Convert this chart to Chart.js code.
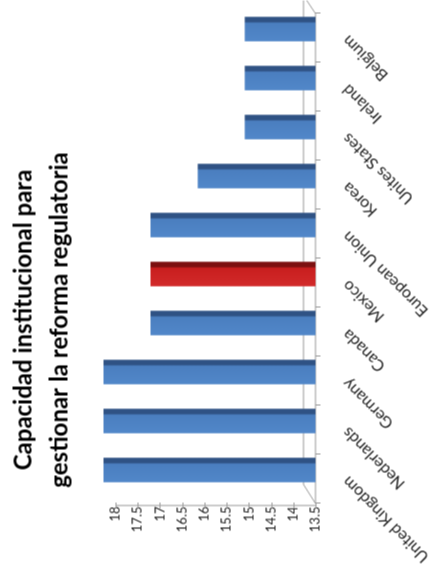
<!DOCTYPE html>
<html>
<head>
<meta charset="utf-8">
<script src="https://cdn.jsdelivr.net/npm/chart.js@4.4.1/dist/chart.umd.min.js"></script>
<style>
  html, body { margin: 0; padding: 0; background: #fff; overflow: hidden; }
  body { width: 433px; height: 584px; position: relative; }
  /* the chart is drawn upright and then turned a quarter to the left */
  #wrap { position: absolute; left: -75.5px; top: 75.5px; width: 584px; height: 433px; transform: rotate(-90deg); }
</style>
</head>
<body>
<div id="wrap"><canvas id="chart" width="584" height="433"></canvas></div>
<script>
const countries = ['United Kingdom', 'Nederlands', 'Germany', 'Canada', 'Mexico',
                   'European Union', 'Korea', 'Unites States', 'Ireland', 'Belgium'];
const scores = [18, 18, 18, 17, 17, 17, 16, 15, 15, 15];
const highlight = 'Mexico';
const valueTicks = [13.5, 14, 14.5, 15, 15.5, 16, 16.5, 17, 17.5, 18];
const titleLines = ['Capacidad institucional para', 'gestionar la reforma regulatoria'];

// shaded fill so the bars look a bit like the 3D columns
function barFill(ctx) {
    const chart = ctx.chart;
    const red = countries[ctx.dataIndex] === highlight;
    const c = red ? ['#d22a2a', '#c81e1e', '#7c1010'] : ['#5187c9', '#4a7ebf', '#2f5284'];
    const x = chart.scales.x;
    if (!chart.chartArea || !x) return c[1];
    const cx = x.getPixelForValue(ctx.dataIndex);
    const half = x.width / countries.length * 0.25;
    const g = chart.ctx.createLinearGradient(cx - half, 0, cx + half, 0);
    g.addColorStop(0, c[0]);
    g.addColorStop(0.74, c[1]);
    g.addColorStop(0.8, c[2]);
    g.addColorStop(1, c[2]);
    return g;
}

// floor of the 3D chart, the axis lines and their tick marks
const floor = {
    id: 'floor',
    beforeDatasetsDraw(chart) {
        const {ctx, scales: {x, y}} = chart;
        const step = x.width / countries.length;
        const front = y.getPixelForValue(13.5);
        const back = front - 12;
        const left = x.left - 9, right = x.right - 9;
        ctx.save();
        ctx.strokeStyle = '#9a9a9a';
        ctx.lineWidth = 1;
        ctx.beginPath();
        ctx.moveTo(left, front);
        ctx.lineTo(left + 19, back);
        ctx.lineTo(right + 18, back);
        ctx.lineTo(right, front);
        ctx.lineTo(left, front);
        // value axis
        ctx.moveTo(left - 2, front);
        ctx.lineTo(left - 2, y.getPixelForValue(18));
        valueTicks.forEach(v => {
            const py = Math.round(y.getPixelForValue(v)) + 0.5;
            ctx.moveTo(left - 5, py);
            ctx.lineTo(left + 1, py);
        });
        for (let i = 0; i <= countries.length; i++) {
            const px = Math.round(left + i * step) + 0.5;
            ctx.moveTo(px, front);
            ctx.lineTo(px, front + 5);
        }
        ctx.stroke();
        ctx.restore();
    }
};

// centre the title a little left of the middle, as in the picture
const titleShift = {
    id: 'titleShift',
    afterLayout(chart) {
        const t = chart.titleBlock;
        if (t) { t.left = -55; t.right = 584; }
    }
};

new Chart(document.getElementById('chart'), {
    type: 'bar',
    data: {
        labels: countries,
        datasets: [{
            data: scores,
            yAxisID: 'yb',
            backgroundColor: barFill,
            borderWidth: 0,
            categoryPercentage: 1,
            barPercentage: 0.5
        }]
    },
    options: {
        responsive: false,
        animation: false,
        plugins: {
            legend: { display: false },
            tooltip: { enabled: false },
            title: {
                display: true,
                text: titleLines,
                color: '#000',
                font: { family: 'Lato', size: 24, weight: 'bold', lineHeight: 1.5 },
                padding: { top: 5, bottom: 26 }
            }
        },
        scales: {
            x: {
                grid: { display: false },
                border: { display: false },
                ticks: {
                    color: '#222',
                    font: { family: 'Lato', size: 16 },
                    minRotation: 45,
                    maxRotation: 45,
                    autoSkip: false,
                    labelOffset: -9,
                    padding: 15
                },
                afterFit: s => { s.height = 118; }
            },
            y: {
                position: 'left',
                min: 13.5,
                max: 18.27,
                grid: { display: false },
                border: { display: false },
                afterBuildTicks: s => { s.ticks = valueTicks.map(v => ({ value: v })); },
                ticks: {
                    color: '#222',
                    font: { family: 'Lato', size: 13 },
                    padding: 4,
                    callback: v => String(v)
                },
                afterFit: s => { s.width = 90; }
            },
            yb: { display: false, min: 13.5, max: 18 }
        }
    },
    plugins: [floor, titleShift]
});
</script>
</body>
</html>
